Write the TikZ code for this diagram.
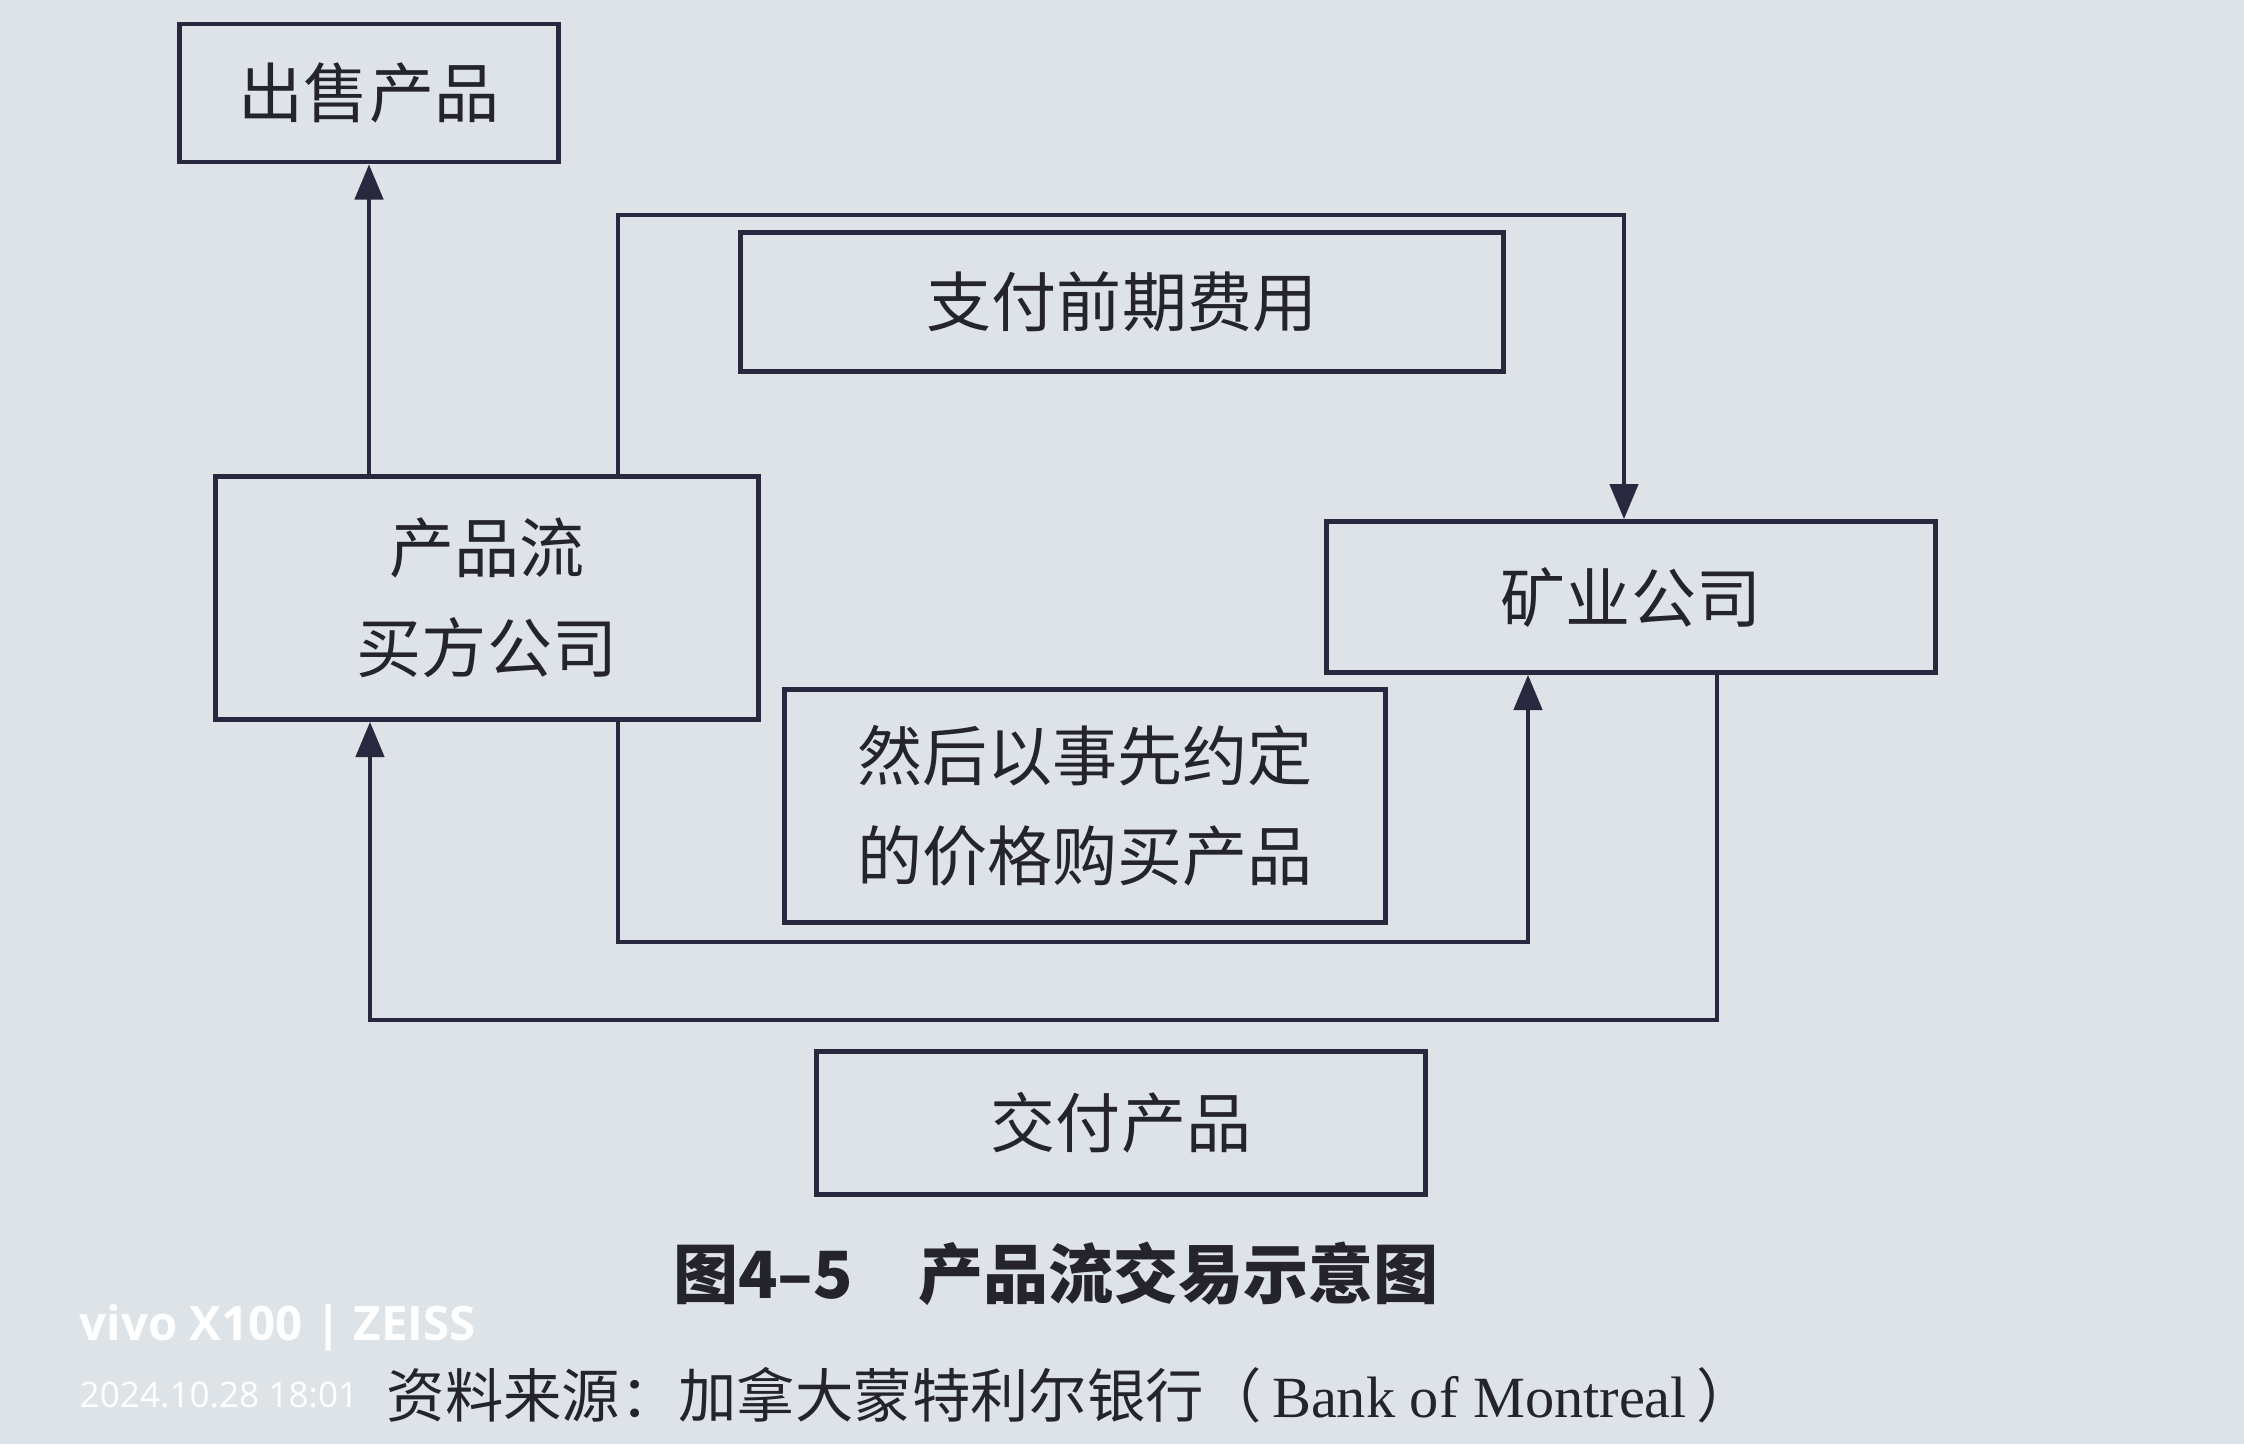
\documentclass[tikz,border=0pt]{standalone}
\usepackage{fontspec}
\setmainfont{Liberation Serif}
\newfontfamily\cjk{Noto Sans CJK SC}
\newfontfamily\wmfont{Open Sans}
\usetikzlibrary{arrows.meta}
\definecolor{paper}{RGB}{222,227,231}
\definecolor{ink}{RGB}{40,40,62}
\definecolor{txt}{RGB}{36,36,42}
\tikzset{
  box/.style={draw=ink, line width=1.3pt, text=txt, align=center, inner sep=0pt,
    font=\cjk\fontsize{18.5}{28.5}\selectfont},
  flow/.style={draw=ink, line width=1.2pt, line join=miter,
    -{Triangle[length=10pt,width=8pt]}},
}
\begin{document}
\begin{tikzpicture}[x=0.01cm,y=-0.01cm]
  \fill[paper] (0,0) rectangle (2244,1444);
  \node[box, minimum width=3.79cm, minimum height=1.38cm] (sell) at (369,93) {出售产品};
  \node[box, minimum width=5.43cm, minimum height=2.43cm] (buyer) at (487,598) {产品流\\买方公司};
  \node[box, minimum width=7.62cm, minimum height=1.39cm] (fee) at (1122,302) {支付前期费用};
  \node[box, minimum width=6.09cm, minimum height=1.51cm] (mine) at (1631,597) {矿业公司};
  \node[box, minimum width=6.01cm, minimum height=2.33cm] (buy) at (1085,806) {然后以事先约定\\的价格购买产品};
  \node[box, minimum width=6.09cm, minimum height=1.43cm] (deliver) at (1121,1123) {交付产品};
  \coordinate (tl) at (618,215);
  \coordinate (tr) at (1624,215);
  \coordinate (bl) at (618,942);
  \coordinate (br) at (1528,942);
  \coordinate (ol) at (370,1020);
  \coordinate (or) at (1717,1020);
  \draw[flow] (buyer.north -| sell) -- (sell.south);
  \draw[flow] (buyer.north -| tl) -- (tl) -- (tr) -- (mine.north -| tr);
  \draw[flow] (buyer.south -| bl) -- (bl) -- (br) -- (mine.south -| br);
  \draw[flow] (mine.south -| or) -- (or) -- (ol) -- (buyer.south -| ol);
  \node[text=txt, font=\cjk\bfseries\fontsize{18.5}{22}\selectfont] (cap) at (1056,1274) {图4–5\quad 产品流交易示意图};
  \node[text=txt, anchor=west, inner sep=0pt, font=\fontsize{16.6}{20}\selectfont] (src) at (386,1395)
    {{\cjk 资料来源：加拿大蒙特利尔银行（}\,Bank of Montreal\,{\cjk ）}};
  \node[white, anchor=west, inner sep=0pt, font=\wmfont\bfseries\fontsize{13.5}{16}\selectfont] (wm) at (79,1328) {vivo X100 | ZEISS};
  \node[white, anchor=west, inner sep=0pt, font=\wmfont\fontsize{10}{12}\selectfont] (date) at (79,1395) {2024.10.28 18:01};
\end{tikzpicture}
\end{document}
